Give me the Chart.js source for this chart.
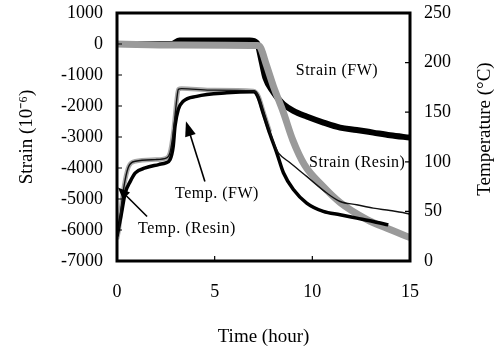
<!DOCTYPE html>
<html><head><meta charset="utf-8">
<script src="https://cdn.jsdelivr.net/npm/chart.js@4.4.1/dist/chart.umd.min.js"></script>
<style>html,body{margin:0;padding:0;background:#fff;} canvas{display:block}</style>
</head><body>
<canvas id="c" width="494" height="349"></canvas>
<script>
// ---- data (time in hours) ----
const timeStrainFW = [0, 2.8, 3.2, 6.8, 7.17, 7.4, 7.6, 8.0, 8.3, 8.52, 9.03, 9.71, 10.57, 11.42, 12.27, 13.12, 13.98, 15];
const strainFW     = [0, 0, 110, 110, 30, -550, -1100, -1550, -1800, -1942, -2157, -2340, -2534, -2696, -2773, -2858, -2945, -3020];

const timeStrainResin = [0, 3, 7.2, 7.35, 7.66, 8.0, 8.52, 9.0, 9.6, 10.55, 11.42, 12.8, 13.98, 15];
const strainResin     = [0, -30, -50, -120, -700, -1350, -2210, -3100, -3900, -4595, -5113, -5663, -5987, -6246];

const timeTempFW = [0, 0.2, 0.42, 0.68, 0.94, 1.45, 2.13, 2.5, 2.71, 2.88, 2.97, 3.14, 3.39, 4.08, 5.62, 7.0, 7.2, 7.5, 7.83, 8.18, 8.52, 9.03, 9.71, 10.56, 11.42, 12.27, 13.12, 13.89];
const tempFW     = [25, 45, 68.5, 80.3, 88.8, 93.8, 97.2, 99, 102, 116, 136, 153, 161, 166, 169.5, 170.5, 166, 148, 128, 109, 89, 72, 58.4, 50, 46.6, 43.2, 39.8, 36.4];

const timeTempResin = [0, 0.09, 0.26, 0.42, 0.6, 0.94, 1.96, 2.54, 2.71, 2.88, 3.06, 3.14, 3.31, 4.76, 6.98, 7.24, 7.5, 7.83, 8.15, 8.26, 8.86, 9.71, 10.74, 11.42, 12.27, 13.12, 13.98, 14.92, 15];
const tempResin     = [22, 31.4, 61.7, 82, 95.4, 100.5, 102.2, 103.9, 109, 129.2, 163, 173, 173.8, 172.3, 171.3, 166, 150, 130, 113, 109, 99, 85.3, 68.5, 60, 56.7, 53.3, 50.9, 47.6, 47];

// ---- axes ----
const timeRange = [0, 15, 5];
const strainRange = [-7000, 1000, 1000];
const tempRange = [0, 250, 50];

// ---- annotations (in time / strain coordinates) ----
const noteText = ['Strain (FW)', 'Strain (Resin)', 'Temp. (FW)', 'Temp. (Resin)'];
const noteTime = [11.26, 12.3, 5.12, 3.58];
const noteStrain = [-874, -3819, -4822, -5955];
const arrowFrom = [[4.5, -4434], [1.54, -5566]];
const arrowTo = [[3.53, -2492], [0.05, -4628]];

const pts = (ts, vs) => ts.map((t, i) => ({x: t, y: vs[i]}));
const FONT = '"Liberation Serif", "Times New Roman", serif';

const decor = {
  id: 'decor',
  afterDatasetsDraw(chart) {
    const {ctx, chartArea: a, scales: {x, y, y2}} = chart;
    ctx.save();
    ctx.strokeStyle = '#000';
    ctx.fillStyle = '#000';
    // inward ticks
    ctx.lineWidth = 1.2;
    ctx.beginPath();
    y.ticks.forEach(t => { const p = y.getPixelForValue(t.value); ctx.moveTo(a.left, p); ctx.lineTo(a.left + 5, p); });
    y2.ticks.forEach(t => { const p = y2.getPixelForValue(t.value); ctx.moveTo(a.right, p); ctx.lineTo(a.right - 5, p); });
    x.ticks.forEach(t => { const p = x.getPixelForValue(t.value); ctx.moveTo(p, a.bottom); ctx.lineTo(p, a.bottom - 5); });
    ctx.stroke();
    // frame
    ctx.lineWidth = 3;
    ctx.strokeRect(a.left, a.top, a.right - a.left, a.bottom - a.top);
    // notes
    ctx.font = '16px ' + FONT;
    ctx.textAlign = 'center';
    ctx.textBaseline = 'middle';
    try { ctx.letterSpacing = '0.5px'; } catch (e) {}
    noteText.forEach((s, i) => ctx.fillText(s, x.getPixelForValue(noteTime[i]), y.getPixelForValue(noteStrain[i])));
    try { ctx.letterSpacing = '0px'; } catch (e) {}
    // arrows
    arrowFrom.forEach((f, i) => {
      const x1 = x.getPixelForValue(f[0]), y1 = y.getPixelForValue(f[1]);
      const x2 = x.getPixelForValue(arrowTo[i][0]), y2p = y.getPixelForValue(arrowTo[i][1]);
      const ang = Math.atan2(y2p - y1, x2 - x1);
      const len = i === 0 ? 15 : 12, w = i === 0 ? 11 : 10;
      ctx.lineWidth = 1.6;
      ctx.beginPath(); ctx.moveTo(x1, y1);
      ctx.lineTo(x2 - Math.cos(ang) * len * 0.8, y2p - Math.sin(ang) * len * 0.8); ctx.stroke();
      const bx = x2 - Math.cos(ang) * len, by = y2p - Math.sin(ang) * len;
      ctx.beginPath();
      ctx.moveTo(x2, y2p);
      ctx.lineTo(bx + Math.sin(ang) * w / 2, by - Math.cos(ang) * w / 2);
      ctx.lineTo(bx - Math.sin(ang) * w / 2, by + Math.cos(ang) * w / 2);
      ctx.closePath(); ctx.fill();
    });
    // right axis title (reads bottom to top)
    ctx.font = '19px ' + FONT;
    ctx.translate(y2.right - 9, (a.top + a.bottom) / 2 - 8);
    ctx.rotate(-Math.PI / 2);
    ctx.fillText('Temperature (°C)', 0, 0);
    ctx.restore();
  }
};

const fitV = w => s => { s.width = w; s.paddingTop = 0; s.paddingBottom = 0; };

new Chart(document.getElementById('c'), {
  type: 'line',
  data: {
    datasets: [
      { label: 'Temp. (Resin)', data: pts(timeTempResin, tempResin), yAxisID: 'y2',
        borderColor: '#111', borderWidth: 1.4, order: 1 },
      { label: 'Temp. (FW)', data: pts(timeTempFW, tempFW), yAxisID: 'y2',
        borderColor: '#000', borderWidth: 3.5, order: 2 },
      { label: 'halo', data: pts(timeTempResin, tempResin), yAxisID: 'y2',
        borderColor: '#a8a8a8', borderWidth: 4.5, order: 3,
        segment: { borderColor: c => c.p0.parsed.x >= 7.6 ? 'rgba(0,0,0,0)' : '#a8a8a8' } },
      { label: 'Strain (Resin)', data: pts(timeStrainResin, strainResin), yAxisID: 'y',
        borderColor: '#9a9a9a', borderWidth: 7, order: 4 },
      { label: 'Strain (FW)', data: pts(timeStrainFW, strainFW), yAxisID: 'y',
        borderColor: '#000', borderWidth: 6, order: 5 }
    ]
  },
  options: {
    responsive: false,
    animation: false,
    devicePixelRatio: 1,
    layout: { padding: { top: 13, left: 0, right: 0, bottom: 0 } },
    elements: { point: { radius: 0 }, line: { cubicInterpolationMode: 'monotone', borderCapStyle: 'butt' } },
    plugins: { legend: { display: false }, tooltip: { enabled: false } },
    scales: {
      x: {
        type: 'linear', min: timeRange[0], max: timeRange[1],
        ticks: { stepSize: timeRange[2], color: '#000', font: { family: FONT, size: 18 }, padding: 20 },
        grid: { display: false, drawTicks: false }, border: { display: false },
        title: { display: true, text: 'Time (hour)', color: '#000', font: { family: FONT, size: 19 }, padding: { top: 0, bottom: 1 } },
        afterFit: s => { s.height = 88; s.paddingLeft = 0; s.paddingRight = 0; }
      },
      y: {
        position: 'left', min: strainRange[0], max: strainRange[1],
        ticks: { stepSize: strainRange[2], color: '#000', font: { family: FONT, size: 18 }, padding: 14, callback: v => String(v) },
        grid: { display: false, drawTicks: false }, border: { display: false },
        title: { display: true, text: 'Strain (10⁻⁶)', color: '#000', font: { family: FONT, size: 19 }, padding: { top: 16, bottom: 0 } },
        afterFit: fitV(117)
      },
      y2: {
        position: 'right', min: tempRange[0], max: tempRange[1],
        ticks: { stepSize: tempRange[2], color: '#000', font: { family: FONT, size: 18 }, padding: 14, callback: v => String(v) },
        grid: { display: false, drawTicks: false }, border: { display: false },
        title: { display: false },
        afterFit: fitV(84)
      }
    }
  },
  plugins: [decor]
});
</script>
</body></html>
